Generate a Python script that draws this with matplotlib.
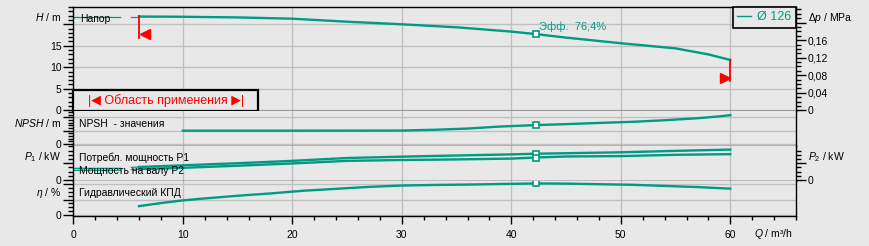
import numpy as np
import matplotlib
matplotlib.use('Agg')
import matplotlib.pyplot as plt
from matplotlib.ticker import MultipleLocator, FixedLocator, FuncFormatter
from matplotlib.lines import Line2D
from matplotlib.patches import Rectangle
from matplotlib.transforms import offset_copy

plt.rcParams['font.family'] = ['Liberation Sans', 'DejaVu Sans']
plt.rcParams['mathtext.fontset'] = 'custom'
plt.rcParams['mathtext.rm'] = 'Liberation Sans'
plt.rcParams['mathtext.it'] = 'Liberation Sans:italic'

TEAL = '#009b82'
RED = '#ff0000'
BG = '#e8e8e8'
GRID = '#c0c0c0'
FS = 7.5

# ---------------- data ----------------
# thin extension outside application range (Q < 6)
q_thin = [0.0, 4.3, np.nan, 5.3, 6.0]
h_thin = [21.8, 21.8, np.nan, 21.8, 21.8]
p1_thin = [1.39, 1.39, np.nan, 1.5, 1.55]
p2_thin = [1.15, 1.15, np.nan, 1.25, 1.3]

# head
q_h = [6, 10, 15, 20, 25, 30, 35, 40, 42.3, 45, 50, 55, 58, 60]
h = [21.8, 21.75, 21.6, 21.3, 20.6, 20.0, 19.3, 18.3, 17.7, 16.9, 15.6, 14.4, 13.0, 11.7]

# NPSH
q_npsh = [10, 20, 30, 33, 36, 39, 42.3, 45, 48, 51, 54, 57, 59, 60]
npsh = [5.0, 5.0, 5.05, 5.35, 5.8, 6.55, 7.1, 7.45, 7.9, 8.3, 8.9, 9.65, 10.35, 10.8]

# power
q_p = [6, 10, 15, 20, 25, 30, 35, 40, 42.3, 45, 50, 55, 60]
p1 = [1.55, 1.75, 2.0, 2.28, 2.62, 2.78, 2.92, 3.05, 3.13, 3.19, 3.3, 3.47, 3.62]
p2 = [1.3, 1.45, 1.7, 1.97, 2.28, 2.38, 2.45, 2.55, 2.68, 2.8, 2.85, 3.0, 3.08]

# hydraulic efficiency
q_eta = [6, 8, 10, 12, 15, 18, 21, 24, 27, 30, 33, 36, 39, 42.3, 45, 48, 51, 54, 57, 60]
eta = [23, 31, 38, 43, 50, 56, 63, 68, 73, 76.5, 78, 79, 80.5, 82, 81.5, 80, 78.5, 75.5, 72.5, 68.5]

q_bep = 42.3
eff_label = 'Эфф.  76,4%'
q_range = [6.0, 60.0]
impeller = 'Ø 126'

# ---------------- layout ----------------
W, Hpx = 869, 246
L, R = 73.3, 796.0
fig = plt.figure(figsize=(W / 100, Hpx / 100), dpi=100, facecolor=BG)


def rect(top, bot):
    return [L / W, 1 - bot / Hpx, (R - L) / W, (bot - top) / Hpx]


def fpos(x, y):
    return x / W, 1 - y / Hpx


ax_h = fig.add_axes(rect(7, 111))
ax_n = fig.add_axes(rect(111, 146))
ax_p = fig.add_axes(rect(146, 181))
ax_e = fig.add_axes(rect(181, 216))
axes = [ax_h, ax_n, ax_p, ax_e]

ax_h.set_ylim(-0.163, 24.02)
ax_n.set_ylim(-0.71, 12.35)
ax_p.set_ylim(-0.119, 4.05)
ax_e.set_ylim(-2.6, 88.3)

for ax in axes:
    ax.set_facecolor(BG)
    ax.set_xlim(0, 66)
    ax.set_axisbelow(True)
    for s in ax.spines.values():
        s.set_color('black')
        s.set_linewidth(1.0)
    ax.spines['top'].set_visible(ax is ax_h)
    ax.xaxis.set_major_locator(FixedLocator([10, 20, 30, 40, 50, 60]))
    ax.grid(True, which='major', color=GRID, lw=1.0)
    ax.tick_params(axis='y', which='both', direction='out', labelsize=FS, pad=1.5, width=1, colors='black')
    ax.tick_params(axis='y', which='major', length=7)
    ax.tick_params(axis='y', which='minor', length=3.5)
    if ax is not ax_e:
        ax.tick_params(axis='x', which='both', length=0, labelbottom=False)

ax_p.yaxis.grid(False)

# bottom x axis
ax_e.xaxis.set_major_locator(FixedLocator([0, 10, 20, 30, 40, 50, 60]))
ax_e.xaxis.set_minor_locator(MultipleLocator(2))
ax_e.tick_params(axis='x', which='major', length=5.5, width=1, labelsize=FS, pad=4.5)
ax_e.tick_params(axis='x', which='minor', length=3, width=1)
ax_e.xaxis.grid(True, which='major', color=GRID, lw=1.0)
ax_e.set_xticklabels(['0', '10', '20', '30', '40', '50', '60'])

# y ticks
ax_h.yaxis.set_major_locator(MultipleLocator(5))
ax_h.yaxis.set_minor_locator(MultipleLocator(1))
ax_h.yaxis.set_major_formatter(FuncFormatter(lambda v, p: f'{v:.0f}' if -0.1 < v < 16 else ''))

ax_n.yaxis.set_major_locator(FixedLocator([0, 5, 10]))
ax_n.yaxis.set_minor_locator(MultipleLocator(1))
ax_n.yaxis.set_major_formatter(FuncFormatter(lambda v, p: '0' if abs(v) < 1e-9 else ''))

ax_p.yaxis.set_major_locator(FixedLocator([0, 2]))
ax_p.yaxis.set_minor_locator(MultipleLocator(0.5))
ax_p.yaxis.set_major_formatter(FuncFormatter(lambda v, p: '0' if abs(v) < 1e-9 else ''))

ax_e.yaxis.set_major_locator(FixedLocator([0, 40, 80]))
ax_e.yaxis.set_minor_locator(MultipleLocator(10))
ax_e.yaxis.set_major_formatter(FuncFormatter(lambda v, p: '0' if abs(v) < 1e-9 else ''))

# right axes
ax_dp = ax_h.twinx()
lo, hi = ax_h.get_ylim()
ax_dp.set_ylim(lo * 0.00981, hi * 0.00981)
ax_dp.yaxis.set_major_locator(MultipleLocator(0.04))
ax_dp.yaxis.set_minor_locator(MultipleLocator(0.01))
ax_dp.yaxis.set_major_formatter(FuncFormatter(
    lambda v, p: '0' if abs(v) < 1e-9 else (f'{v:.2f}'.replace('.', ',') if v < 0.17 else '')))

ax_p2 = ax_p.twinx()
ax_p2.set_ylim(ax_p.get_ylim())
ax_p2.yaxis.set_major_locator(FixedLocator([0, 2]))
ax_p2.yaxis.set_minor_locator(FixedLocator([0.5, 1, 1.5, 2.5, 3, 3.5]))
ax_p2.yaxis.set_major_formatter(FuncFormatter(lambda v, p: '0' if abs(v) < 1e-9 else ''))

for ax in (ax_dp, ax_p2):
    for s in ax.spines.values():
        s.set_visible(False)
    ax.tick_params(axis='y', which='both', direction='out', labelsize=FS, pad=1.5, width=1, colors='black')
    ax.tick_params(axis='y', which='major', length=7)
    ax.tick_params(axis='y', which='minor', length=3.5)

# ---------------- curves ----------------
LW = 1.7
ax_h.plot(q_thin, h_thin, color=TEAL, lw=0.9)
ax_h.plot(q_h, h, color=TEAL, lw=LW)
ax_n.plot(q_npsh, npsh, color=TEAL, lw=LW)
ax_p.plot(q_thin, p1_thin, color=TEAL, lw=0.9)
ax_p.plot(q_thin, p2_thin, color=TEAL, lw=0.9)
ax_p.plot(q_p, p1, color=TEAL, lw=LW)
ax_p.plot(q_p, p2, color=TEAL, lw=LW)
ax_e.plot(q_eta, eta, color=TEAL, lw=LW)

mk = dict(marker='s', ms=4.5, mfc='white', mec=TEAL, mew=1.2, ls='none', zorder=5)
ax_h.plot([q_bep], [h[q_h.index(q_bep)]], **mk)
ax_n.plot([q_bep], [npsh[q_npsh.index(q_bep)]], **mk)
ax_p.plot([q_bep], [p1[q_p.index(q_bep)]], **mk)
ax_p.plot([q_bep], [p2[q_p.index(q_bep)]], **mk)
ax_e.plot([q_bep], [eta[q_eta.index(q_bep)]], **mk)

ax_h.annotate(eff_label, xy=(q_bep, h[q_h.index(q_bep)]), xytext=(1.5, 5.5),
              textcoords='offset points', ha='left', va='center', color=TEAL, fontsize=8)

# application range markers
h_lo, h_hi = h[0], h[-1]
ax_h.plot([q_range[0], q_range[0]], [h_lo + 0.2, h_lo - 4.9], color=RED, lw=1.3, zorder=4)
ax_h.plot([q_range[1], q_range[1]], [h_hi, h_hi - 4.9], color=RED, lw=1.3, zorder=4)
tl = offset_copy(ax_h.transData, fig=fig, x=5.5, y=0, units='dots')
tr = offset_copy(ax_h.transData, fig=fig, x=-5.5, y=0, units='dots')
ax_h.plot([q_range[0]], [h_lo - 4.1], marker='<', ms=7, color=RED, mec=RED, transform=tl, zorder=4)
ax_h.plot([q_range[1]], [h_hi - 4.1], marker='>', ms=7, color=RED, mec=RED, transform=tr, zorder=4)

# legend
leg = ax_h.legend([Line2D([], [], color=TEAL, lw=1.0)], [impeller], loc='upper right',
                  fontsize=9, frameon=True, fancybox=False, borderaxespad=0.0,
                  handlelength=1.1, handletextpad=0.5, borderpad=0.35, labelcolor=TEAL)
leg.get_frame().set_edgecolor('black')
leg.get_frame().set_facecolor(BG)
leg.get_frame().set_linewidth(1.2)
leg.get_frame().set_alpha(1)

# application range box
ax_h.add_patch(Rectangle((0, 0), 0.2556, 0.202, transform=ax_h.transAxes, facecolor=BG,
                         edgecolor='black', lw=1.6, zorder=6, clip_on=False))
ax_h.text(0.128, 0.101, '|◀ Область применения ▶|', transform=ax_h.transAxes, ha='center',
          va='center', color=RED, fontsize=9, zorder=7)

# ---------------- labels ----------------
fig.text(*fpos(61, 17), '$H$ / m', ha='right', va='center', fontsize=FS)
fig.text(*fpos(61, 123), '$NPSH$ / m', ha='right', va='center', fontsize=FS)
fig.text(*fpos(61, 157), '$P_1$ / kW', ha='right', va='center', fontsize=FS)
fig.text(*fpos(61, 192.5), r'$\eta$ / %', ha='right', va='center', fontsize=FS)
fig.text(*fpos(808, 18), 'Δ$p$ / MPa', ha='left', va='center', fontsize=FS)
fig.text(*fpos(808, 157), '$P_2$ / kW', ha='left', va='center', fontsize=FS)
fig.text(*fpos(773, 234), '$Q$ / m³/h', ha='center', va='center', fontsize=FS)

fig.text(*fpos(80, 18.5), 'Напор', ha='left', va='center', fontsize=FS)
fig.text(*fpos(79, 124), 'NPSH  - значения', ha='left', va='center', fontsize=FS)
fig.text(*fpos(79, 158), 'Потребл. мощность P1', ha='left', va='center', fontsize=FS)
fig.text(*fpos(79, 171), 'Мощность на валу P2', ha='left', va='center', fontsize=FS)
fig.text(*fpos(79, 193), 'Гидравлический КПД', ha='left', va='center', fontsize=FS)

fig.savefig('out.png', dpi=100, facecolor=BG)
